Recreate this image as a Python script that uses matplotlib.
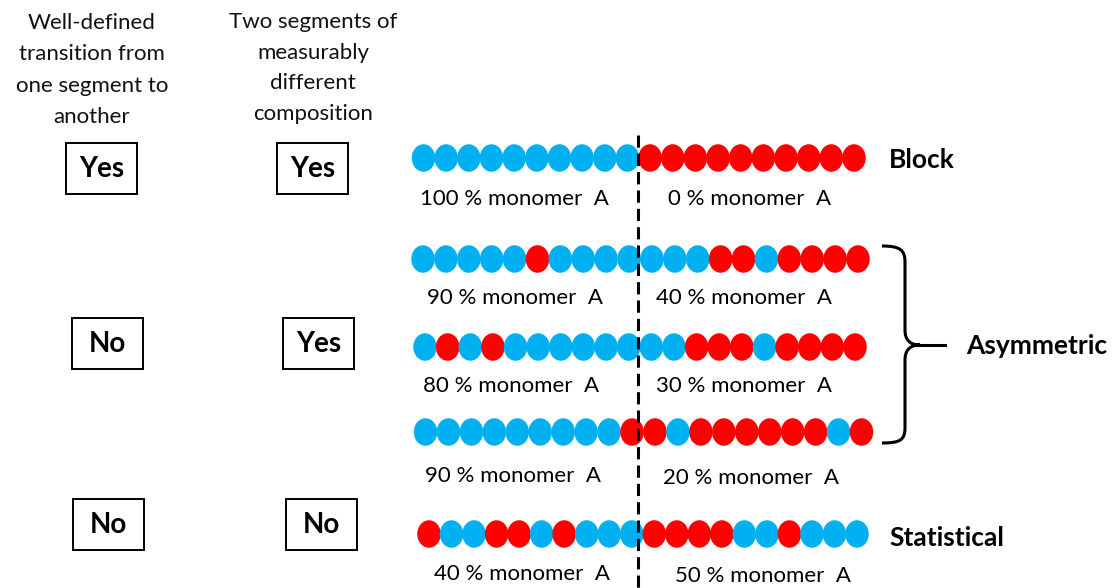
import matplotlib
matplotlib.use("Agg")
import matplotlib.pyplot as plt
from matplotlib.patches import Ellipse, Rectangle, PathPatch
from matplotlib.path import Path

plt.rcParams['font.family'] = ['Lato', 'DejaVu Sans']

# chain sequences: B = monomer A (blue), R = monomer B (red); "|" marks the segment boundary
sequences = [
    "BBBBBBBBBB|RRRRRRRRRR",
    "BBBBBRBBBB|BBBRRBRRRR",
    "BRBRBBBBBB|BBRRRBRRRR",
    "BBBBBBBBBR|RBRRRRRRBR",
    "RBBRRBRBBB|RRRRBBRBBB",
]
left_labels = ["100 % monomer  A", "90 % monomer  A", "80 % monomer  A", "90 % monomer  A", "40 % monomer  A"]
right_labels = ["0 % monomer  A", "40 % monomer  A", "30 % monomer  A", "20 % monomer  A", "50 % monomer  A"]
headers = ["Well-defined\ntransition from\none segment to\nanother",
           "Two segments of\nmeasurably\ndifferent\ncomposition"]
well_defined = ["Yes", "No", "No"]
two_segments = ["Yes", "Yes", "No"]
names = ["Block", "Asymmetric", "Statistical"]

COLORS = {"B": "#00B0F0", "R": "#FF0000"}

# layout in pixel coordinates
row_y = [158, 259, 347, 432, 534]
row_x = [(423.5, 854), (423, 858), (425, 855), (425.5, 861.5), (429, 857)]
left_lab_xy = [(514, 199), (515, 298), (511, 386), (513, 476), (522, 574)]
right_lab_xy = [(750, 199), (744, 298), (744, 386), (751, 478), (763, 576)]
box_rows = [(143, [66, 277]), (318, [72, 283]), (499, [73, 286])]
name_xy = [(889, 160), (966, 346), (889, 538)]

fig = plt.figure(figsize=(11.16, 5.88), dpi=100)
ax = fig.add_axes([0, 0, 1, 1])
ax.set_xlim(0, 1116)
ax.set_ylim(588, 0)
ax.axis("off")

# headers
ax.text(92, 70, headers[0], ha="center", va="center", fontsize=16, linespacing=1.72, color="#111111")
ax.text(313, 68, headers[1], ha="center", va="center", fontsize=16, linespacing=1.65, color="#111111")

# yes/no boxes
for (y0, xs), a, b in zip(box_rows, well_defined, two_segments):
    for x0, word in zip(xs, [a, b]):
        ax.add_patch(Rectangle((x0, y0), 71, 51, fill=False, lw=1.4, ec="black"))
        ax.text(x0 + 35.5, y0 + 26, word, ha="center", va="center", fontsize=20, fontweight="bold")

# bead chains
for seq, y, (xa, xb) in zip(sequences, row_y, row_x):
    beads = seq.replace("|", "")
    step = (xb - xa) / (len(beads) - 1)
    for i, c in enumerate(beads):
        ax.add_patch(Ellipse((xa + i * step, y), 23.5, 27.5, color=COLORS[c], lw=0))

for (x, y), t in zip(left_lab_xy, left_labels):
    ax.text(x, y, t, ha="center", va="center", fontsize=16)
for (x, y), t in zip(right_lab_xy, right_labels):
    ax.text(x, y, t, ha="center", va="center", fontsize=16)

# segment boundary
ax.plot([638, 638], [135, 588], color="black", lw=2.2, linestyle=(0, (4, 2)), solid_capstyle="butt")

# brace for asymmetric group
verts = [(882, 246), (900, 246), (905, 250), (905, 262),
         (905, 330),
         (905, 340), (910, 345), (920, 345),
         (910, 345), (905, 350), (905, 360),
         (905, 428),
         (905, 440), (900, 443), (882, 443)]
codes = [Path.MOVETO, Path.CURVE4, Path.CURVE4, Path.CURVE4,
         Path.LINETO,
         Path.CURVE4, Path.CURVE4, Path.CURVE4,
         Path.CURVE4, Path.CURVE4, Path.CURVE4,
         Path.LINETO,
         Path.CURVE4, Path.CURVE4, Path.CURVE4]
ax.add_patch(PathPatch(Path(verts, codes), fill=False, lw=2.2, ec="black"))
ax.plot([920, 945], [345, 345], color="black", lw=2.2)

for (x, y), t in zip(name_xy, names):
    ax.text(x, y, t, ha="left", va="center", fontsize=19, fontweight="bold")

fig.savefig("out.png", dpi=100)
